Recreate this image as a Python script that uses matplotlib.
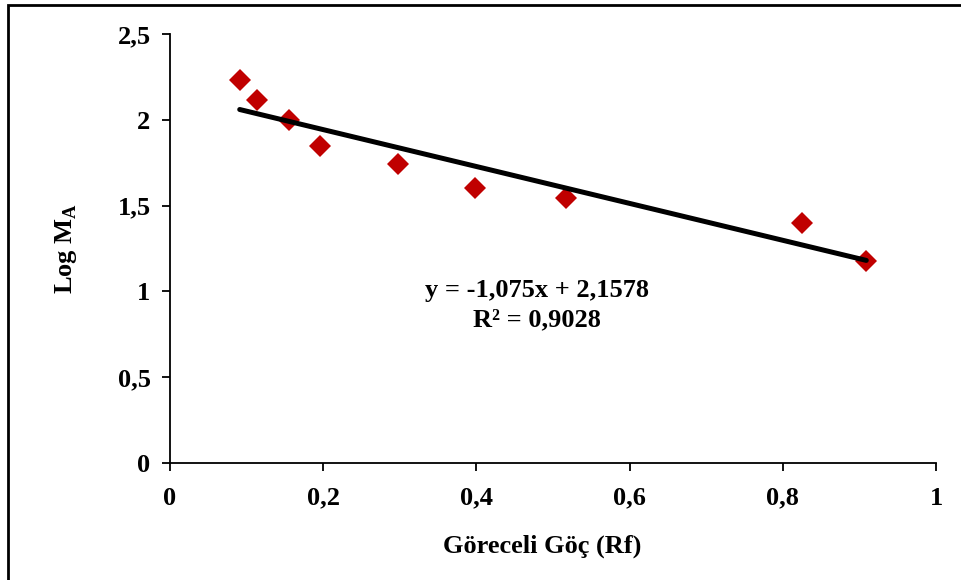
import matplotlib
matplotlib.use('Agg')
from matplotlib import pyplot as plt
from matplotlib.patches import Rectangle
from matplotlib.ticker import FuncFormatter, MultipleLocator
import numpy as np

font = {'family': 'Liberation Serif', 'weight': 'bold', 'size': 19}
matplotlib.rc('font', **font)
matplotlib.rcParams['axes.labelweight'] = 'bold'
matplotlib.rcParams['mathtext.fontset'] = 'custom'
matplotlib.rcParams['mathtext.rm'] = 'Liberation Serif'
matplotlib.rcParams['mathtext.bf'] = 'Liberation Serif:bold'

# relative migration (Rf) and log molecular mass
rf = [0.091, 0.114, 0.155, 0.196, 0.298, 0.398, 0.517, 0.825, 0.909]
log_ma = [2.232, 2.115, 1.999, 1.847, 1.742, 1.603, 1.544, 1.399, 1.177]
slope = -1.075
intercept = 2.1578
r2 = 0.9028


def comma(v, pos):
	return ('%g' % v).replace('.', ',')


fig = plt.figure(figsize=(9.61, 5.80), dpi=100)
ax = fig.add_axes([170 / 961., 1 - 463 / 580., 766 / 961., 429 / 580.])

xs = np.array([min(rf), max(rf)])
ax.plot(xs, slope * xs + intercept, color='black', linewidth=3.6, solid_capstyle='round', zorder=3)
ax.plot(rf, log_ma, linestyle='none', marker='D', markersize=11.5, color='#C00000', markeredgewidth=0, zorder=2)

ax.set_xlim(0, 1)
ax.set_ylim(0, 2.5)
ax.xaxis.set_major_locator(MultipleLocator(0.2))
ax.yaxis.set_major_locator(MultipleLocator(0.5))
ax.xaxis.set_major_formatter(FuncFormatter(comma))
ax.yaxis.set_major_formatter(FuncFormatter(comma))
for side in ['top', 'right']:
	ax.spines[side].set_visible(False)
for side in ['left', 'bottom']:
	ax.spines[side].set_linewidth(1.3)
ax.tick_params(direction='out', length=6, width=1.3)
ax.tick_params(axis='x', pad=11)
ax.tick_params(axis='y', pad=8)

eq = 'y = %sx + %s\nR² = %s' % (comma(slope, 0), comma(intercept, 0), comma(r2, 0))
ax.text(0.479, 0.92, eq, ha='center', va='center', linespacing=1.35)

ax.set_xlabel('Göreceli Göç (Rf)', labelpad=18, x=0.486)
ax.set_ylabel('Log M$_{\\mathrm{A}}$', labelpad=28)

fig.patches.append(Rectangle((8 / 961., -0.1), 1.2, 1.1 - 5 / 580., fill=False, linewidth=2,
	edgecolor='black', transform=fig.transFigure, figure=fig))

fig.savefig('out.png', dpi=100)
